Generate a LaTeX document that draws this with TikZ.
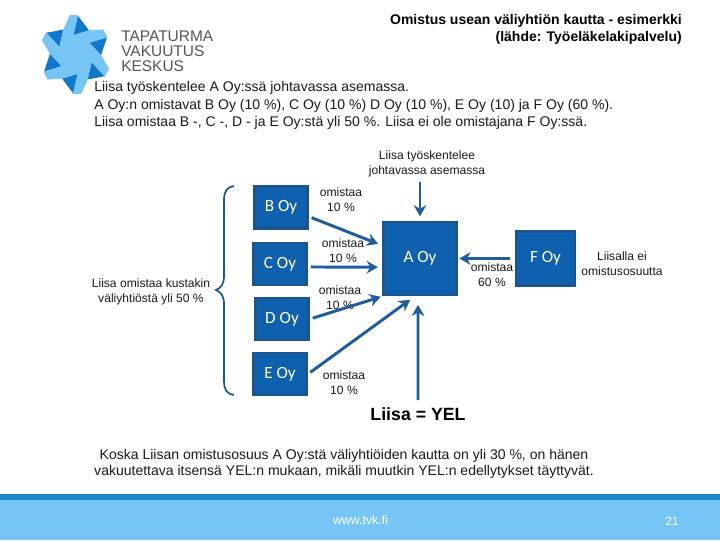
\documentclass[tikz,border=0pt]{standalone}
\usepackage{fontspec}
\setmainfont{Liberation Sans}
\newfontfamily\boxfont{Carlito}
\definecolor{boxblue}{RGB}{16, 96, 176}
\definecolor{boxedge}{RGB}{28, 84, 140}
\definecolor{arrowblue}{RGB}{30, 94, 160}
\definecolor{footerlight}{RGB}{118, 197, 244}
\definecolor{footerdark}{RGB}{27, 135, 201}
\definecolor{logodark}{RGB}{15, 120, 205}
\definecolor{logogrey}{RGB}{85, 85, 85}
\usetikzlibrary{arrows.meta, positioning}

\tikzset{
    companybox/.style={draw=boxedge, fill=boxblue, line width=1.9pt, inner sep=0pt,
                       text=white, font=\boxfont\fontsize{12.2}{14}\selectfont},
    ownarrow/.style={arrowblue, line width=2.1pt, -{Stealth[length=8pt,width=9pt]}},
    smalltext/.style={font=\fontsize{8.6}{10.7}\selectfont, align=center, text=black!90},
    bodytext/.style={font=\fontsize{9.97}{11.5}\selectfont, text=black!90},
    logotext/.style={font=\fontsize{11}{12}\selectfont, text=logogrey, anchor=west, inner sep=0pt},
}

\begin{document}
\begin{tikzpicture}[x=0.025cm, y=-0.025cm]
    \useasboundingbox (0,0) rectangle (720,540);

    % Logo
    \foreach \a in {0,60,...,300} {
        \begin{scope}[shift={(75.5,54.5)}, xscale=0.9, rotate=\a]
            \fill[logodark] (2.5,-39) -- (15,-24) -- (-2.7,-19) -- cycle;
            \filldraw[footerlight, line width=0.4pt] (0,0) -- (-6,-39) -- (2.5,-39) -- (-2.7,-19) -- (15,-24) -- (30.8,-24.7) -- cycle;
        \end{scope}
    }
    \node[logotext] (logoA) at (121,36) {TAPATURMA};
    \node[logotext] (logoB) at (121,51) {VAKUUTUS};
    \node[logotext] (logoC) at (121,66) {KESKUS};

    % Title
    \node[font=\bfseries\fontsize{9.95}{12}\selectfont, align=right, anchor=east, inner sep=0pt] (title)
        at (682,29.5) {Omistus usean väliyhtiön kautta - esimerkki\\(lähde: Työeläkelakipalvelu)};

    % Intro text
    \node[bodytext, anchor=west, inner sep=0pt] (introA) at (94,88) {Liisa työskentelee A Oy:ssä johtavassa asemassa.};
    \node[bodytext, anchor=west, inner sep=0pt] (introB) at (94,106) {A Oy:n omistavat B Oy (10 \%), C Oy (10 \%) D Oy (10 \%), E Oy (10) ja F Oy (60 \%).};
    \node[bodytext, anchor=west, inner sep=0pt] (introC) at (94,123) {Liisa omistaa B -, C -, D - ja E Oy:stä yli 50 \%. Liisa ei ole omistajana F Oy:ssä.};

    % Companies
    \node[companybox, minimum width=52pt, minimum height=52pt] (aOy) at (420,258.5) {A Oy};
    \node[companybox, minimum width=38pt, minimum height=30pt] (bOy) at (281,207.5) {B Oy};
    \node[companybox, minimum width=38pt, minimum height=30pt] (cOy) at (280,264) {C Oy};
    \node[companybox, minimum width=38pt, minimum height=30pt] (dOy) at (282,319) {D Oy};
    \node[companybox, minimum width=38pt, minimum height=30pt] (eOy) at (280,374) {E Oy};
    \node[companybox, minimum width=42pt, minimum height=38pt] (fOy) at (545.5,258.5) {F Oy};

    % Labels
    \node[smalltext] (bLabel) at (341,200) {omistaa\\10 \%};
    \node[smalltext] (cLabel) at (343,251) {omistaa\\10 \%};
    \node[smalltext] (dLabel) at (340,298) {omistaa\\10 \%};
    \node[smalltext] (eLabel) at (344,383) {omistaa\\10 \%};
    \node[smalltext] (fLabel) at (492,275) {omistaa\\60 \%};
    \node[smalltext] (noShare) at (622,264) {Liisalla ei\\omistusosuutta};
    \node[smalltext] (allShare) at (151,292) {Liisa omistaa kustakin\\väliyhtiöstä yli 50 \%};
    \node[smalltext] (leadLabel) at (427,164) {Liisa työskentelee\\johtavassa asemassa};
    \node[font=\bfseries\fontsize{12.6}{14}\selectfont, inner sep=1pt] (yel) at (418,414) {Liisa = YEL};

    % Arrows into A Oy
    \coordinate (leadEnd) at (420,182);
    \coordinate (yelEnd) at (418,400);
    \draw[ownarrow, shorten <=2pt, shorten >=3pt] (bOy.-18) -- (aOy.161);
    \draw[ownarrow, shorten <=2pt, shorten >=3pt] (cOy.-6) -- (aOy.193);
    \draw[ownarrow, shorten <=2pt, shorten >=1pt] (dOy.east) -- (aOy.south west);
    \draw[ownarrow, shorten <=2pt, shorten >=4pt] (eOy.east) -- (aOy.-98);
    \draw[ownarrow, shorten >=3pt] (leadEnd) -- (aOy.north);
    \draw[ownarrow, shorten >=6pt] (yelEnd) -- (aOy.-93);
    \draw[ownarrow, shorten <=3pt, shorten >=1pt] (fOy.west) -- (aOy.east);

    % Brace
    \draw[boxedge, line width=1.2pt] (234,186) .. controls (227,187) and (224,191) .. (224,200)
        -- (224,276) .. controls (224,284) and (221,288) .. (216,290)
        .. controls (221,292) and (224,296) .. (224,304)
        -- (224,381) .. controls (224,390) and (227,394) .. (234,395);

    % Closing text
    \node[bodytext, align=center, inner sep=0pt] (closing) at (344,464)
        {Koska Liisan omistusosuus A Oy:stä väliyhtiöiden kautta on yli 30 \%, on hänen\\
         vakuutettava itsensä YEL:n mukaan, mikäli muutkin YEL:n edellytykset täyttyvät.};

    % Footer
    \fill[footerlight] (0,500) rectangle (720,540);
    \fill[footerdark] (0,494) rectangle (720,500);
    \node[font=\fontsize{8.8}{10}\selectfont, text=white] (site) at (360.5,520) {www.tvk.fi};
    \node[font=\fontsize{8.5}{10}\selectfont, text=white] (page) at (672,521) {21};
\end{tikzpicture}
\end{document}
